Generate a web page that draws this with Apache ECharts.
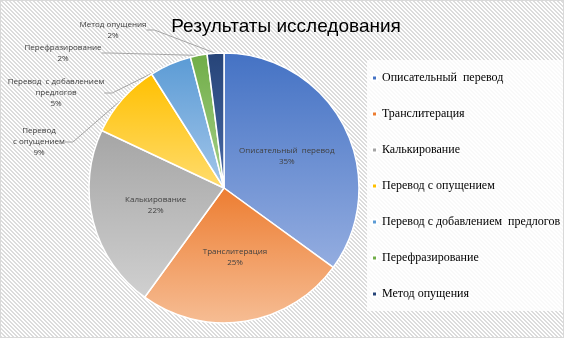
<!DOCTYPE html>
<html>
<head>
<meta charset="utf-8">
<script src="https://cdn.jsdelivr.net/npm/echarts@6/dist/echarts.min.js"></script>
<style>
  html, body { margin: 0; padding: 0; background: #fff; }
  #chart { width: 564px; height: 338px; box-sizing: border-box; border: 1px solid #d9d9d9; }
</style>
</head>
<body>
<div id="chart"></div>
<script>
// Survey results: share of each translation technique, in percent
const categories = [
  'Описательный  перевод',
  'Транслитерация',
  'Калькирование',
  'Перевод с опущением',
  'Перевод с добавлением  предлогов',
  'Перефразирование',
  'Метод опущения'
];
const sliceLabels = [
  'Описательный  перевод',
  'Транслитерация',
  'Калькирование',
  'Перевод\nс опущением',
  'Перевод  с добавлением\nпредлогов',
  'Перефразирование',
  'Метод опущения'
];
const values = [35, 25, 22, 9, 5, 2, 2];
const titleText = 'Результаты исследования';

// base colour and lighter gradient end for each slice
const baseColors = ['#4472c4', '#ed7d31', '#a5a5a5', '#ffc000', '#5b9bd5', '#70ad47', '#264478'];
const lightColors = ['#94ade0', '#f6bd94', '#d0d0d0', '#ffdc6e', '#a3c6ea', '#a6d08a', '#4a6aa6'];

// diagonal hatch used for the chart area background
function hatch(stripe, bg) {
  const c = document.createElement('canvas');
  c.width = 4; c.height = 4;
  const ctx = c.getContext('2d');
  ctx.fillStyle = bg; ctx.fillRect(0, 0, 4, 4);
  ctx.fillStyle = stripe;
  for (let y = 0; y < 4; y++) {
    for (let x = 0; x < 4; x++) {
      const d = ((x - y) % 4 + 4) % 4;
      if (d < 2) ctx.fillRect(x, y, 1, 1);
    }
  }
  return c.toDataURL();
}
document.getElementById('chart').style.background = 'url(' + hatch('#dcdcdc', '#ffffff') + ') repeat';

const chart = echarts.init(document.getElementById('chart'), null, { renderer: 'canvas' });

// outside label anchor points for the four small slices (index -> centre of text block)
const outsideLabelPos = {
  3: [38, 141],
  4: [55, 92],
  5: [62, 52],
  6: [112, 29]
};

const data = values.map((v, i) => {
  const outside = i >= 3;
  return {
    name: categories[i],
    value: v,
    itemStyle: {
      color: new echarts.graphic.LinearGradient(0, 0, 0, 1, [
        { offset: 0, color: baseColors[i] },
        { offset: 1, color: lightColors[i] }
      ])
    },
    label: outside ? { position: 'outside' } : { position: 'inside' },
    labelLine: { show: outside }
  };
});

chart.setOption({
  backgroundColor: 'transparent',
  animation: false,
  title: {
    text: titleText,
    left: 280,
    textAlign: 'center',
    top: 11,
    textStyle: { fontFamily: 'Liberation Sans', fontSize: 19, fontWeight: 'normal', color: '#000' }
  },
  graphic: [{
    type: 'rect',
    shape: { x: 366, y: 59, width: 197, height: 251 },
    style: { fill: 'rgba(255,255,255,0.82)' },
    z: -1,
    silent: true
  }],
  legend: {
    orient: 'vertical',
    left: 370,
    top: 70,
    padding: 0,
    itemWidth: 5,
    itemHeight: 5,
    itemGap: 22,
    icon: 'rect',
    textStyle: { fontFamily: 'Liberation Serif', fontSize: 12, color: '#000', lineHeight: 14 },
    data: categories.map((c, i) => ({ name: c, itemStyle: { color: baseColors[i] } }))
  },
  series: [{
    type: 'pie',
    center: [223, 187],
    radius: [0, 135],
    startAngle: 90,
    clockwise: true,
    data: data,
    itemStyle: { borderColor: '#fff', borderWidth: 1.5 },
    label: {
      formatter: (p) => sliceLabels[p.dataIndex] + '\n' + p.value + '%',
      fontFamily: 'Open Sans',
      fontSize: 8,
      lineHeight: 11,
      color: '#404040',
      align: 'center',
      overflow: 'none'
    },
    labelLine: {
      length: 8,
      length2: 8,
      lineStyle: { color: '#a6a6a6', width: 1 }
    },
    labelLayout: (params) => {
      const pos = outsideLabelPos[params.dataIndex];
      if (!pos) return {};
      return { x: pos[0], y: pos[1], align: 'center', verticalAlign: 'middle' };
    },
    emphasis: { disabled: true }
  }]
});
</script>
</body>
</html>
